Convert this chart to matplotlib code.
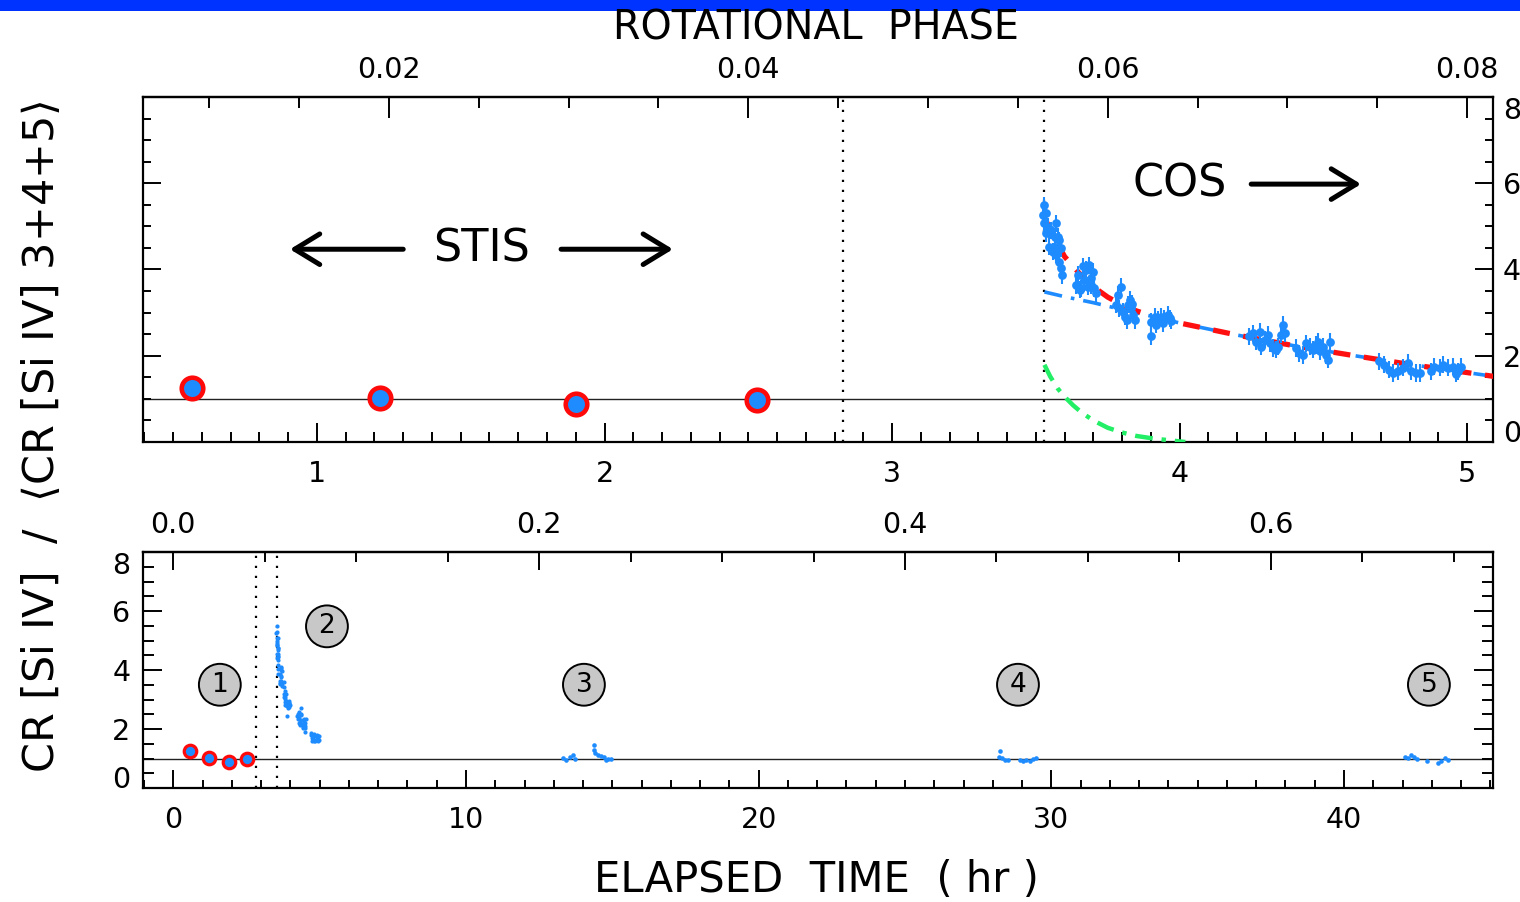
import matplotlib
matplotlib.use("Agg")
import matplotlib.pyplot as plt
from matplotlib.patches import Rectangle
from matplotlib.ticker import MultipleLocator, FixedLocator, FormatStrFormatter

# ---------------- data ----------------
PERIOD_HR = 62.5  # rotational period used for the phase axis

stis_t = [0.565, 1.22, 1.90, 2.53]
stis_v = [1.26, 1.03, 0.87, 0.98]

cos_t = [3.524, 3.530, 3.536, 3.530, 3.541, 3.547, 3.553, 3.565, 3.571, 3.576,
         3.547, 3.565, 3.576, 3.582, 3.588, 3.571, 3.582, 3.588, 3.591, 3.559, 3.536,
         3.640, 3.652, 3.646, 3.663, 3.675, 3.686, 3.669, 3.681, 3.692, 3.698,
         3.704, 3.708, 3.657, 3.692,
         3.797, 3.786, 3.780, 3.791, 3.803, 3.809, 3.820, 3.826, 3.832, 3.838,
         3.817, 3.846, 3.835,
         3.901, 3.913, 3.924, 3.936, 3.947, 3.959, 3.965, 3.918, 3.942, 3.901, 3.971,
         4.243, 4.255, 4.266, 4.278, 4.284, 4.296, 4.307, 4.313, 4.325, 4.336,
         4.342, 4.354, 4.360, 4.365,
         4.405, 4.417, 4.428, 4.440, 4.452, 4.463, 4.475, 4.487, 4.498, 4.510,
         4.516, 4.522, 4.480,
         4.695, 4.712, 4.730, 4.742, 4.759, 4.777, 4.794, 4.806, 4.823, 4.835,
         4.875, 4.886, 4.904, 4.915, 4.933, 4.950, 4.968, 4.979, 4.960]
cos_v = [5.26, 5.49, 5.30, 5.07, 4.99, 4.84, 4.91, 4.76, 5.07, 4.76,
         4.53, 4.53, 4.45, 4.68, 4.49, 4.34, 4.18, 4.03, 3.87, 4.41, 4.84,
         3.64, 3.53, 3.87, 4.07, 3.99, 4.10, 3.76, 3.60, 3.80, 3.95,
         3.57, 3.45, 3.56, 3.64,
         3.60, 3.41, 3.18, 3.10, 3.02, 2.91, 3.18, 3.29, 3.10, 2.95,
         2.83, 2.83, 3.20,
         2.79, 2.91, 2.83, 2.91, 2.87, 2.95, 2.87, 2.72, 2.76, 2.45, 2.81,
         2.45, 2.52, 2.33, 2.56, 2.21, 2.37, 2.49, 2.29, 2.18, 2.14,
         2.21, 2.49, 2.72, 2.52,
         2.18, 2.06, 2.02, 2.29, 2.21, 2.14, 2.25, 2.10, 2.21, 2.02,
         1.91, 2.33, 2.33,
         1.87, 1.79, 1.68, 1.60, 1.64, 1.72, 1.83, 1.64, 1.60, 1.60,
         1.64, 1.75, 1.72, 1.79, 1.72, 1.75, 1.64, 1.75, 1.58]
cos_err = 0.2

# later COS visits (bottom panel)
late_t = [13.32, 13.43, 13.55, 13.66, 13.74,
          14.39, 14.37, 14.41, 14.50, 14.62, 14.73, 14.84, 14.96, 14.79,
          28.24, 28.20, 28.30, 28.41, 28.52,
          28.92, 29.03, 29.15, 29.26, 29.37, 29.49,
          42.08, 42.19, 42.30, 42.39, 42.48,
          42.82,
          43.21, 43.33, 43.44, 43.55]
late_v = [1.01, 0.95, 1.06, 1.12, 0.98,
          1.46, 1.29, 1.18, 1.12, 1.09, 1.04, 0.98, 0.98, 0.95,
          1.24, 1.06, 1.01, 0.95, 0.95,
          0.95, 0.90, 0.95, 0.92, 0.99, 1.01,
          1.06, 1.01, 1.12, 1.04, 0.98,
          0.90,
          0.84, 0.93, 1.01, 0.95]

# model curves
blue_t = [3.53, 3.60, 3.70, 3.80, 3.90, 4.00, 4.20, 4.40, 4.60, 4.80, 5.00, 5.094]
blue_v = [3.48, 3.37, 3.23, 3.07, 2.92, 2.76, 2.48, 2.23, 2.01, 1.80, 1.61, 1.52]
red_t = [3.53, 3.56, 3.60, 3.65, 3.70, 3.75, 3.80, 3.85, 3.90, 3.95, 4.00,
         4.20, 4.40, 4.60, 4.80, 5.00, 5.094]
red_v = [5.20, 4.80, 4.30, 3.92, 3.60, 3.36, 3.18, 3.04, 2.93, 2.84, 2.76,
         2.48, 2.23, 2.01, 1.80, 1.61, 1.52]
green_t = [3.53, 3.55, 3.575, 3.60, 3.63, 3.66, 3.70, 3.75, 3.80, 3.85, 3.90, 3.95, 4.02]
green_v = [1.79, 1.52, 1.25, 1.05, 0.85, 0.68, 0.50, 0.33, 0.22, 0.14, 0.09, 0.05, 0.0]

vlines_t = [2.83, 3.53]

visit_labels = ["1", "2", "3", "4", "5"]
visit_t = [1.59, 5.25, 14.03, 28.86, 42.90]
visit_v = [3.5, 5.48, 3.5, 3.5, 3.5]

y_ticks = [0, 2, 4, 6, 8]
top_phase_ticks = [0.02, 0.04, 0.06, 0.08]
bot_phase_ticks = [0.0, 0.2, 0.4, 0.6]
top_time_ticks = [1, 2, 3, 4, 5]
bot_time_ticks = [0, 10, 20, 30, 40]

# ---------------- figure ----------------
W, H = 1520, 902
fig = plt.figure(figsize=(W / 100, H / 100), dpi=100)
plt.rcParams['font.family'] = ['DejaVu Sans']

fig.add_artist(Rectangle((0, 1 - 11 / H), 1, 11 / H, transform=fig.transFigure,
                         color='#0033ff', lw=0))

ax1 = fig.add_axes([143 / W, (H - 442) / H, 1350 / W, 345 / H])
ax2 = fig.add_axes([143 / W, (H - 788) / H, 1350 / W, 236 / H])

BLUE = '#1e8cff'
TICKFS = 20.5

for ax in (ax1, ax2):
    for sp in ax.spines.values():
        sp.set_linewidth(1.6)
    ax.axhline(1.0, color='#222222', lw=1.0, zorder=1)
    for vt in vlines_t:
        ax.axvline(vt, color='black', lw=1.6, ls=(0, (1, 3.5)), zorder=1)
    ax.set_ylim(0, 8)
    ax.yaxis.set_major_locator(FixedLocator(y_ticks))
    ax.yaxis.set_minor_locator(MultipleLocator(0.5))

# ---- top panel ----
ax1.set_xlim(0.395, 5.09)
ax1.xaxis.set_major_locator(FixedLocator(top_time_ticks))
ax1.xaxis.set_minor_locator(MultipleLocator(0.1))
ax1.tick_params(axis='x', which='both', direction='in', top=False, bottom=True,
                labelsize=TICKFS, pad=13, width=1.4)
ax1.tick_params(axis='x', which='major', length=14)
ax1.tick_params(axis='x', which='minor', length=7)
ax1.tick_params(axis='y', which='both', direction='in', left=True, right=True,
                labelleft=False, labelright=True, labelsize=TICKFS, pad=7, width=1.4)
ax1.tick_params(axis='y', which='major', length=13)
ax1.tick_params(axis='y', which='minor', length=6)

sec1 = ax1.secondary_xaxis('top', functions=(lambda t: t / PERIOD_HR,
                                             lambda p: p * PERIOD_HR))
sec1.xaxis.set_major_locator(FixedLocator(top_phase_ticks))
sec1.xaxis.set_minor_locator(MultipleLocator(0.005))
sec1.xaxis.set_major_formatter(FormatStrFormatter('%.2f'))
sec1.tick_params(axis='x', which='both', direction='in', labelsize=TICKFS, pad=9, width=1.4)
sec1.tick_params(axis='x', which='major', length=15)
sec1.tick_params(axis='x', which='minor', length=8)
sec1.spines['top'].set_linewidth(1.6)

ax1.plot(green_t, green_v, color='#22ee66', lw=3.2, ls=(0, (4, 2, 1, 2)), zorder=3)
ax1.plot(blue_t, blue_v, color=BLUE, lw=2.6, ls=(0, (5, 2.5, 1, 2.5)), zorder=3)
ax1.plot(red_t, red_v, color='#ff1010', lw=3.8, ls=(0, (3.2, 2.6)), zorder=4)
ax1.errorbar(cos_t, cos_v, yerr=cos_err, fmt='o', color=BLUE, ms=6.3, mew=0,
             elinewidth=1.5, capsize=0, zorder=5)
ax1.plot(stis_t, stis_v, 'o', ms=15.5, mfc=BLUE, mec='#ff0a0a', mew=3.3, zorder=6)

ax1.text(1.574, 4.47, 'STIS', fontsize=32, ha='center', va='center')
arrow_kw = dict(arrowstyle='->, head_length=0.9, head_width=0.55', lw=3.6,
                color='black', mutation_scale=20, shrinkA=0, shrinkB=0)
ax1.annotate('', xy=(0.906, 4.47), xytext=(1.30, 4.47), arrowprops=arrow_kw)
ax1.annotate('', xy=(2.238, 4.47), xytext=(1.849, 4.47), arrowprops=arrow_kw)
ax1.text(4.0, 5.98, 'COS', fontsize=32, ha='center', va='center')
ax1.annotate('', xy=(4.631, 5.98), xytext=(4.249, 5.98), arrowprops=arrow_kw)

# ---- bottom panel ----
ax2.set_xlim(-1.035, 45.09)
ax2.xaxis.set_major_locator(FixedLocator(bot_time_ticks))
ax2.xaxis.set_minor_locator(MultipleLocator(1))
ax2.tick_params(axis='x', which='both', direction='in', top=False, bottom=True,
                labelsize=TICKFS, pad=13, width=1.4)
ax2.tick_params(axis='x', which='major', length=13)
ax2.tick_params(axis='x', which='minor', length=6)
ax2.tick_params(axis='y', which='both', direction='in', left=True, right=True,
                labelleft=True, labelright=False, labelsize=TICKFS, pad=9, width=1.4)
ax2.tick_params(axis='y', which='major', length=14)
ax2.tick_params(axis='y', which='minor', length=8)

sec2 = ax2.secondary_xaxis('top', functions=(lambda t: t / PERIOD_HR,
                                             lambda p: p * PERIOD_HR))
sec2.xaxis.set_major_locator(FixedLocator(bot_phase_ticks))
sec2.xaxis.set_minor_locator(MultipleLocator(0.05))
sec2.xaxis.set_major_formatter(FormatStrFormatter('%.1f'))
sec2.tick_params(axis='x', which='both', direction='in', labelsize=TICKFS, pad=9, width=1.4)
sec2.tick_params(axis='x', which='major', length=13)
sec2.tick_params(axis='x', which='minor', length=7)
sec2.spines['top'].set_linewidth(1.6)

ax2.plot(cos_t, cos_v, 'o', color=BLUE, ms=3.0, mew=0, zorder=5)
ax2.plot(late_t, late_v, 'o', color=BLUE, ms=3.3, mew=0, zorder=5)
ax2.plot(stis_t, stis_v, 'o', ms=9, mfc=BLUE, mec='#ff0a0a', mew=2.3, zorder=6)

for lab, tx, vy in zip(visit_labels, visit_t, visit_v):
    ax2.text(tx, vy, lab, fontsize=19, ha='center', va='center', zorder=7,
             bbox=dict(boxstyle='circle,pad=0.3', fc='#c8c8c8', ec='black', lw=1.4))

# keep the end labels of the y axes inside the frame (IDL style)
fig.canvas.draw()
for ax, side in ((ax1, 'label2'), (ax2, 'label1')):
    ticks = ax.yaxis.get_major_ticks()
    getattr(ticks[0], side).set_va('baseline')
    getattr(ticks[-1], side).set_va('top')

# ---- labels ----
fig.text(816 / W, 1 - 29 / H, 'ROTATIONAL  PHASE', fontsize=28.5, ha='center', va='center')
fig.text(816 / W, 1 - 880 / H, 'ELAPSED  TIME  ( hr )', fontsize=30, ha='center',
         va='center')
fig.text(42 / W, 1 - 437 / H,
         r'CR [Si IV]  /  $\langle$CR [Si IV] 3+4+5$\rangle$',
         fontsize=31, rotation=90, ha='center', va='center')

fig.savefig('out.png', dpi=100)
